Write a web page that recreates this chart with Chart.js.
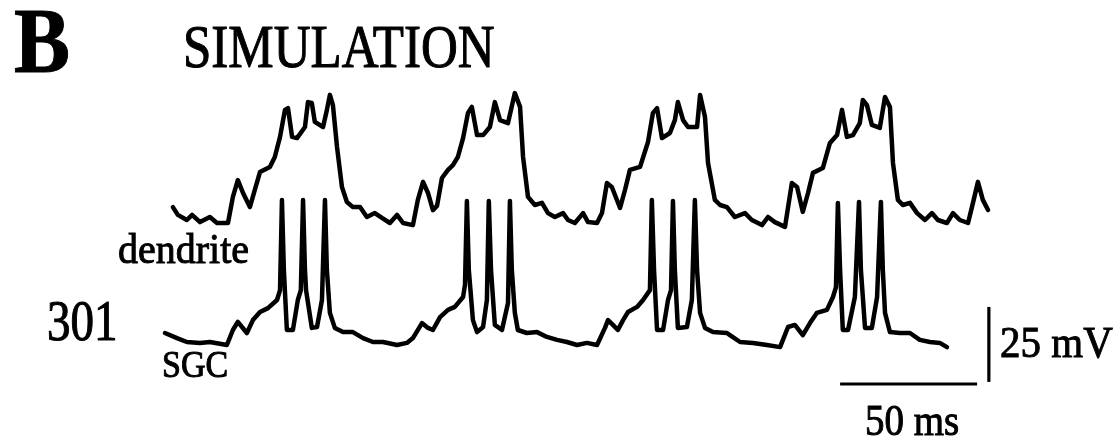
<!DOCTYPE html>
<html>
<head>
<meta charset="utf-8">
<script src="https://cdn.jsdelivr.net/npm/chart.js@4/dist/chart.umd.min.js"></script>
<style>
  html, body { margin: 0; padding: 0; background: #fff; }
  #wrap { width: 1116px; height: 442px; }
</style>
</head>
<body>
<div id="wrap"><canvas id="trace" width="1116" height="442"></canvas></div>
<script>
// time in ms from the start of the SGC trace, voltage in mV
const dendriteTime = [2.9, 4.7, 8.0, 9.9, 12.8, 16.4, 19.0, 23.0, 24.8, 26.6, 28.5, 31.0, 32.8, 34.7, 38.3, 40.1,
  42.0, 43.8, 44.9, 46.4, 48.2, 51.1, 52.2, 53.6, 54.7, 57.7, 59.1, 60.2, 61.3, 62.8, 64.6, 66.4, 68.6, 71.2,
  73.7, 76.6, 79.2, 82.1, 84.7, 86.9, 90.5, 92.3, 94.2, 96.0, 97.8, 99.3, 101.1, 103.3, 105.1, 106.9, 108.8,
  110.6, 112.0, 113.9, 116.1, 118.6, 120.4, 122.3, 125.2, 127.7, 129.6, 130.7, 132.5, 135.0, 137.6, 139.8,
  142.3, 145.3, 147.1, 149.6, 152.6, 154.4, 157.7, 159.5, 161.3, 163.1, 166.1, 167.9, 169.7, 173.4, 176.3,
  178.1, 179.6, 181.4, 184.3, 186.1, 187.2, 189.1, 190.9, 194.2, 195.3, 197.1, 198.2, 200.7, 202.6, 205.1,
  208.0, 211.7, 214.2, 217.9, 220.1, 222.6, 226.3, 228.8, 230.7, 232.8, 234.7, 236.5, 240.1, 242.7, 245.3,
  247.1, 248.9, 251.1, 253.6, 254.7, 256.2, 258.0, 260.9, 262.8, 264.6, 265.7, 267.5, 269.3, 271.9, 274.5,
  277.4, 279.9, 282.1, 285.4, 287.6, 290.1, 293.1, 294.9, 296.7, 298.5, 300.4];
const dendriteMv = [-59.7, -62.3, -64.0, -62.3, -64.7, -63.0, -65.0, -65.0, -56.3, -50.7, -55.0, -59.7, -54.0,
  -48.0, -46.3, -43.0, -36.3, -27.3, -26.7, -36.3, -36.7, -33.0, -24.7, -25.0, -31.3, -33.0, -27.3, -22.3,
  -25.7, -39.7, -53.0, -58.0, -59.7, -59.7, -63.0, -61.7, -63.3, -65.0, -62.3, -65.0, -65.7, -57.3, -51.3,
  -55.0, -60.7, -59.3, -50.0, -47.3, -45.7, -43.0, -36.7, -28.3, -26.3, -35.7, -35.7, -33.0, -24.7, -30.7,
  -31.7, -21.7, -26.3, -43.0, -56.3, -59.0, -58.3, -61.7, -63.0, -61.7, -64.0, -65.0, -61.7, -64.7, -65.0,
  -61.7, -51.7, -53.0, -60.0, -54.0, -47.3, -46.3, -38.0, -28.3, -26.7, -36.7, -35.0, -30.7, -24.7, -30.7,
  -33.0, -33.0, -22.3, -29.7, -45.0, -57.3, -59.0, -59.7, -63.0, -61.7, -64.0, -65.7, -63.0, -64.7, -66.3,
  -51.7, -53.0, -61.3, -55.0, -48.3, -46.7, -38.3, -35.7, -27.3, -36.3, -35.7, -31.7, -24.0, -25.7, -32.3,
  -33.3, -23.0, -26.3, -45.0, -57.3, -59.0, -58.3, -61.7, -64.0, -61.7, -64.0, -65.0, -61.7, -64.0, -65.0,
  -58.3, -51.3, -57.3, -60.7];

const sgcTime = [0.0, 4.4, 8.0, 12.8, 16.4, 22.6, 24.8, 26.6, 29.9, 32.1, 34.7, 37.6, 40.9, 42.0, 42.7, 43.4,
  44.5, 46.7, 48.5, 49.6, 50.4, 51.1, 51.5, 53.6, 55.5, 57.3, 58.4, 59.1, 60.2, 62.0, 65.0, 68.6, 72.3, 75.9,
  79.6, 84.7, 88.3, 90.5, 93.8, 96.0, 97.8, 100.4, 103.3, 105.8, 108.8, 109.5, 110.2, 110.9, 112.4, 113.9,
  116.1, 117.5, 118.2, 119.0, 120.4, 123.0, 125.2, 125.9, 126.6, 127.7, 128.8, 132.1, 135.8, 139.4, 143.1,
  146.7, 150.4, 154.0, 157.7, 160.6, 161.7, 163.5, 165.3, 167.2, 169.0, 172.3, 174.5, 177.0, 177.7, 178.5,
  179.6, 181.8, 183.6, 184.7, 185.4, 186.1, 187.2, 190.5, 192.3, 193.4, 194.2, 195.3, 197.1, 200.0, 205.1,
  206.2, 209.9, 214.6, 219.7, 224.5, 227.4, 229.9, 232.8, 235.4, 237.9, 241.6, 243.8, 244.9, 245.6, 246.4,
  247.4, 249.3, 251.8, 253.3, 254.0, 255.5, 258.0, 259.9, 261.3, 262.0, 262.8, 264.6, 268.2, 271.9, 275.5,
  279.2, 282.8, 285.4];
const sgcMv = [-61.0, -62.7, -64.0, -64.3, -64.0, -65.0, -60.0, -57.3, -61.0, -56.7, -54.0, -52.7, -50.0, -46.7,
  -16.7, -40.0, -60.0, -60.0, -50.0, -46.7, -16.7, -40.0, -46.7, -59.3, -59.0, -50.0, -16.7, -40.0, -54.3,
  -59.3, -60.7, -60.7, -62.7, -64.0, -64.0, -65.0, -64.3, -62.7, -57.7, -59.3, -60.0, -55.7, -53.3, -52.3,
  -49.0, -45.0, -17.0, -40.0, -56.7, -60.7, -59.0, -50.0, -17.0, -40.0, -58.3, -60.0, -51.0, -17.0, -40.0,
  -54.3, -60.0, -61.0, -60.7, -62.3, -63.3, -64.0, -65.0, -64.3, -65.0, -59.3, -56.7, -58.3, -60.0, -56.7,
  -54.0, -52.3, -50.0, -46.7, -16.7, -40.0, -60.0, -60.0, -50.0, -46.7, -17.0, -40.0, -59.3, -59.0, -50.0,
  -16.7, -40.0, -54.3, -59.3, -60.7, -61.0, -61.7, -64.0, -64.3, -65.0, -65.7, -59.0, -58.3, -61.7, -57.7,
  -54.3, -53.3, -49.0, -45.7, -17.7, -40.0, -60.0, -60.0, -49.0, -17.3, -40.0, -59.3, -59.3, -49.0, -17.3,
  -40.0, -54.3, -60.7, -61.0, -61.0, -63.3, -64.0, -64.3, -65.7];

// scale bars: 50 ms and 25 mV
const timeBar = { t: [246.4, 296.4], mv: [-78.0, -78.0] };
const voltBar = { t: [300.7, 300.7], mv: [-77.3, -52.3] };

function points(ts, vs) {
  return ts.map((t, i) => ({ x: t, y: vs[i] }));
}

const labels = [
  { text: "B", x: 14, y: 72, size: 84, weight: "bold", sy: 1.12 },
  { text: "SIMULATION", x: 183, y: 67, size: 51, weight: "normal", sy: 1.2 },
  { text: "dendrite", x: 118, y: 263, size: 40, weight: "normal", sy: 1.05 },
  { text: "301", x: 47, y: 340, size: 47, weight: "normal", sy: 1.2 },
  { text: "SGC", x: 162, y: 377, size: 34, weight: "normal", sy: 1.1 },
  { text: "25 mV", x: 1000, y: 357, size: 41, weight: "normal", sy: 1.1 },
  { text: "50 ms", x: 865, y: 435, size: 39, weight: "normal", sy: 1.12 },
];

const textPlugin = {
  id: "figText",
  afterDraw(chart) {
    const ctx = chart.ctx;
    ctx.save();
    ctx.fillStyle = "#000";
    ctx.strokeStyle = "#000";
    ctx.lineWidth = 0.9;
    ctx.textBaseline = "alphabetic";
    labels.forEach((l) => {
      ctx.save();
      ctx.font = `${l.weight} ${l.size}px "Liberation Serif", "DejaVu Serif", serif`;
      ctx.translate(l.x, l.y);
      ctx.scale(1, l.sy);
      ctx.fillText(l.text, 0, 0);
      ctx.strokeText(l.text, 0, 0);
      ctx.restore();
    });
    ctx.restore();
  },
};

const lineStyle = {
  borderColor: "#000",
  borderWidth: 4.5,
  pointRadius: 0,
  tension: 0,
  borderJoinStyle: "round",
  borderCapStyle: "round",
  fill: false,
};

new Chart(document.getElementById("trace"), {
  type: "line",
  data: {
    datasets: [
      { ...lineStyle, label: "dendrite", data: points(dendriteTime, dendriteMv), yAxisID: "yDend" },
      { ...lineStyle, label: "SGC", data: points(sgcTime, sgcMv), yAxisID: "ySgc" },
      { ...lineStyle, label: "50 ms", data: points(timeBar.t, timeBar.mv), yAxisID: "ySgc", borderWidth: 3.2, borderCapStyle: "butt" },
      { ...lineStyle, label: "25 mV", data: points(voltBar.t, voltBar.mv), yAxisID: "ySgc", borderWidth: 3.2, borderCapStyle: "butt" },
    ],
  },
  options: {
    responsive: false,
    animation: false,
    devicePixelRatio: 1,
    layout: { padding: 0 },
    plugins: { legend: { display: false }, tooltip: { enabled: false } },
    scales: {
      x: { type: "linear", min: -60.2, max: 347.1, display: false },
      ySgc: { type: "linear", min: -97.33, max: 50, display: false },
      yDend: { type: "linear", min: -138, max: 9.33, display: false },
    },
  },
  plugins: [textPlugin],
});
</script>
</body>
</html>
